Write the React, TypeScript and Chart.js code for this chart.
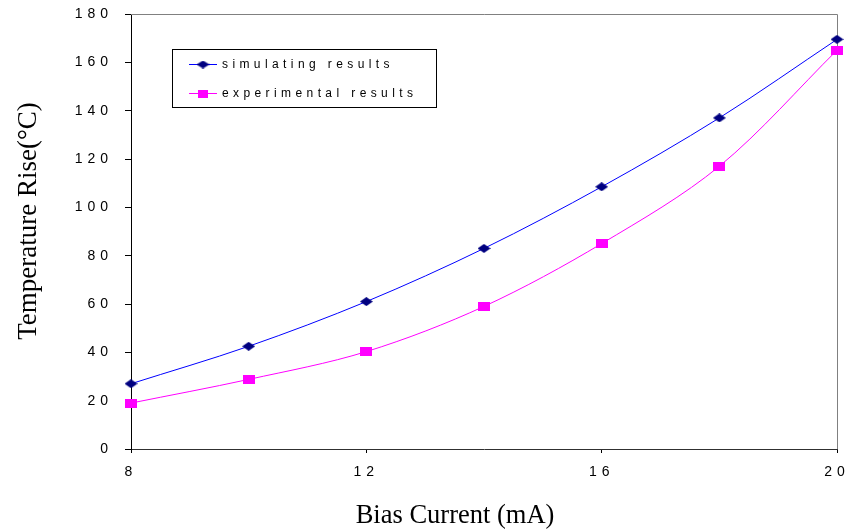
import React, { useEffect, useRef } from "react";
import { Chart, registerables } from "chart.js";

Chart.register(...registerables);

const currents = [8, 10, 12, 14, 16, 18, 20];
const simulating = [27, 42.5, 61, 83, 108.5, 137, 169.5];
const experimental = [19, 28.8, 40.3, 59, 85, 117, 165];
const seriesLabels = ["simulating results", "experimental results"];
const xTitle = "Bias Current (mA)";
const yTitle = "Temperature Rise(°C)";

function makeDiamond(w: number, h: number, color: string) {
  const c = document.createElement("canvas");
  c.width = w;
  c.height = h;
  const g = c.getContext("2d")!;
  g.fillStyle = color;
  g.beginPath();
  g.moveTo(w / 2, 0);
  g.lineTo(w, h / 2);
  g.lineTo(w / 2, h);
  g.lineTo(0, h / 2);
  g.closePath();
  g.fill();
  return c;
}

function makeRect(w: number, h: number, color: string) {
  const c = document.createElement("canvas");
  c.width = w;
  c.height = h;
  const g = c.getContext("2d")!;
  g.fillStyle = color;
  g.fillRect(0, 0, w, h);
  return c;
}

function zeroPadding(scale: any) {
  scale.paddingTop = 0;
  scale.paddingBottom = 0;
  scale.paddingLeft = 0;
  scale.paddingRight = 0;
}

export default function App() {
  const ref = useRef<HTMLCanvasElement>(null);

  useEffect(() => {
    const diamond = makeDiamond(13, 9, "#000080");
    const square = makeRect(12, 9, "#FF00FF");
    const legDiamond = makeDiamond(13, 8, "#000080");
    const legSquare = makeRect(10, 8, "#FF00FF");

    const plugin = {
      id: "custom",
      beforeLayout(chart: any) {
        chart.ctx.letterSpacing = "5px";
      },
      beforeDraw(chart: any) {
        chart.ctx.letterSpacing = "5px";
      },
      beforeDatasetsDraw(chart: any) {
        const { ctx, chartArea } = chart;
        ctx.save();
        ctx.strokeStyle = "#808080";
        ctx.lineWidth = 1;
        ctx.beginPath();
        ctx.moveTo(chartArea.left, chartArea.top + 0.5);
        ctx.lineTo(chartArea.right + 0.5, chartArea.top + 0.5);
        ctx.lineTo(chartArea.right + 0.5, chartArea.bottom);
        ctx.stroke();
        ctx.restore();
      },
      afterDraw(chart: any) {
        const { ctx } = chart;
        ctx.save();
        // legend
        ctx.letterSpacing = "0px";
        ctx.fillStyle = "#FFFFFF";
        ctx.fillRect(172, 49, 264, 58);
        ctx.strokeStyle = "#000000";
        ctx.lineWidth = 1;
        ctx.strokeRect(172.5, 49.5, 264, 58);
        const rows = [
          { y: 64, color: "#0000FF", img: legDiamond, text: seriesLabels[0] },
          { y: 93, color: "#FF00FF", img: legSquare, text: seriesLabels[1] },
        ];
        ctx.font = "12px 'Liberation Sans', Arial, sans-serif";
        ctx.textBaseline = "middle";
        ctx.textAlign = "left";
        for (const r of rows) {
          ctx.strokeStyle = r.color;
          ctx.beginPath();
          ctx.moveTo(189, r.y + 0.5);
          ctx.lineTo(217, r.y + 0.5);
          ctx.stroke();
          ctx.drawImage(r.img, 203 - r.img.width / 2, r.y + 0.5 - r.img.height / 2);
          ctx.fillStyle = "#000000";
          ctx.letterSpacing = "4.4px";
          ctx.fillText(r.text, 222, r.y + 1);
          ctx.letterSpacing = "0px";
        }
        // axis titles
        ctx.letterSpacing = "0px";
        ctx.fillStyle = "#000000";
        ctx.textAlign = "center";
        ctx.textBaseline = "alphabetic";
        ctx.font = "26.5px 'Liberation Serif', 'Times New Roman', serif";
        ctx.fillText(xTitle, 455, 523);
        ctx.font = "27px 'Liberation Serif', 'Times New Roman', serif";
        ctx.translate(36, 221);
        ctx.rotate(-Math.PI / 2);
        ctx.fillText(yTitle, 0, 0);
        ctx.restore();
      },
    };

    const chart = new Chart(ref.current!, {
      type: "line",
      data: {
        datasets: [
          {
            label: seriesLabels[0],
            data: currents.map((x, i) => ({ x, y: simulating[i] })),
            borderColor: "#0000FF",
            borderWidth: 1,
            pointStyle: diamond as any,
            pointRadius: 6,
            tension: 0.33,
            clip: false as any,
          },
          {
            label: seriesLabels[1],
            data: currents.map((x, i) => ({ x, y: experimental[i] })),
            borderColor: "#FF00FF",
            borderWidth: 1,
            pointStyle: square as any,
            pointRadius: 6,
            tension: 0.33,
            clip: false as any,
          },
        ],
      },
      options: {
        animation: false,
        responsive: true,
        maintainAspectRatio: false,
        layout: { padding: { left: 0, right: 14, top: 14, bottom: 0 } },
        plugins: {
          legend: { display: false },
          tooltip: { enabled: false },
        },
        scales: {
          x: {
            type: "linear",
            min: 8,
            max: 20,
            ticks: {
              stepSize: 4,
              color: "#000000",
              font: { family: "'Liberation Sans', Arial, sans-serif", size: 14 },
              padding: 11,
              maxRotation: 0,
            },
            grid: {
              display: true,
              drawOnChartArea: false,
              drawTicks: true,
              tickLength: 4,
              tickColor: "#000000",
            },
            border: { display: true, color: "#303030", width: 1 },
            afterFit(scale: any) {
              scale.height = 82;
              zeroPadding(scale);
            },
          },
          y: {
            type: "linear",
            min: 0,
            max: 180,
            ticks: {
              stepSize: 20,
              color: "#000000",
              font: { family: "'Liberation Sans', Arial, sans-serif", size: 14 },
              padding: 12,
            },
            grid: {
              display: true,
              drawOnChartArea: false,
              drawTicks: true,
              tickLength: 6,
              tickColor: "#000000",
            },
            border: { display: true, color: "#000000", width: 1 },
            afterFit(scale: any) {
              scale.width = 131;
              zeroPadding(scale);
            },
          },
        },
      },
      plugins: [plugin],
    });
    return () => chart.destroy();
  }, []);

  return (
    <div style={{ position: "absolute", left: 0, top: 0, width: 851, height: 531 }}>
      <canvas ref={ref} />
    </div>
  );
}
